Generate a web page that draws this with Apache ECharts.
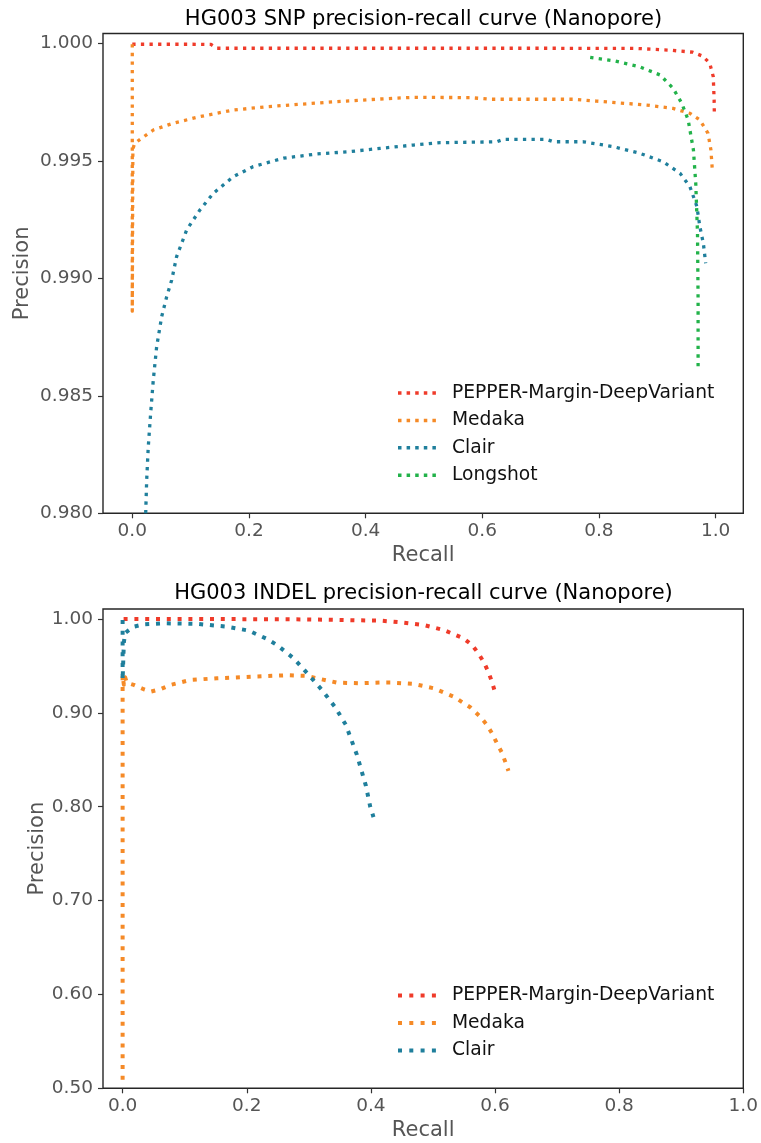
<!DOCTYPE html>
<html>
<head>
<meta charset="utf-8">
<script src="https://cdn.jsdelivr.net/npm/echarts@6/dist/echarts.min.js"></script>
<style>
html,body{margin:0;padding:0;background:#fff;}
#chart{width:761px;height:1143px;}
</style>
</head>
<body>
<div id="chart"></div>
<script>
// ---------- Data ----------
const seriesNames = ['PEPPER-Margin-DeepVariant', 'Medaka', 'Clair', 'Longshot'];
const seriesColors = ['#ef3b2a', '#f58a27', '#1f7f9c', '#22b24a'];

const recallTicks = [0, 0.2, 0.4, 0.6, 0.8, 1.0];
const snpPrecisionTicks = [0.980, 0.985, 0.990, 0.995, 1.000];
const indelPrecisionTicks = [0.5, 0.6, 0.7, 0.8, 0.9, 1.0];

// SNP panel
const snpPepperRecall = [0, 0.002, 0.05, 0.10, 0.135, 0.145, 0.3, 0.5, 0.7, 0.865, 0.92, 0.961, 0.978, 0.990, 0.996, 0.9975, 0.9978];
const snpPepperPrecision = [0.99996, 0.99996, 0.99996, 0.99996, 0.99995, 0.99979, 0.99979, 0.99979, 0.99979, 0.99978, 0.99971, 0.99962, 0.99945, 0.99915, 0.99858, 0.99759, 0.99709];

const snpMedakaRecall = [0, 0, 0.001, 0.004, 0.016, 0.036, 0.070, 0.116, 0.173, 0.230, 0.345, 0.425, 0.482, 0.579, 0.613, 0.756, 0.796, 0.882, 0.927, 0.956, 0.973, 0.987, 0.992, 0.9944];
const snpMedakaPrecision = [0.99996, 0.9886, 0.9955, 0.99574, 0.99596, 0.99631, 0.99660, 0.99688, 0.99716, 0.99730, 0.99751, 0.99763, 0.99770, 0.99769, 0.99762, 0.99762, 0.99754, 0.99737, 0.99723, 0.99702, 0.99674, 0.99617, 0.99546, 0.99461];

const snpClairRecall = [0.023, 0.0247, 0.0274, 0.0315, 0.036, 0.0418, 0.0504, 0.059, 0.0675, 0.076, 0.0933, 0.116, 0.139, 0.173, 0.207, 0.259, 0.316, 0.373, 0.425, 0.482, 0.528, 0.625, 0.636, 0.710, 0.722, 0.773, 0.825, 0.870, 0.910, 0.939, 0.956, 0.968, 0.973, 0.979, 0.983];
const snpClairPrecision = [0.9800, 0.98142, 0.98283, 0.98426, 0.98567, 0.98709, 0.98837, 0.98922, 0.98992, 0.99092, 0.99206, 0.99291, 0.99362, 0.99432, 0.99475, 0.99511, 0.99529, 0.99539, 0.99553, 0.99567, 0.99577, 0.99581, 0.99591, 0.99591, 0.99581, 0.99581, 0.99560, 0.99532, 0.99496, 0.99447, 0.99390, 0.99305, 0.99220, 0.99149, 0.99064];

const snpLongshotRecall = [0.785, 0.825, 0.870, 0.905, 0.927, 0.942, 0.953, 0.962, 0.966, 0.969, 0.970, 0.970];
const snpLongshotPrecision = [0.99940, 0.99926, 0.99900, 0.99865, 0.99809, 0.99745, 0.99674, 0.99546, 0.99404, 0.99191, 0.98908, 0.98610];

// INDEL panel
const indelPepperRecall = [0.0016, 0.1, 0.2, 0.3, 0.415, 0.447, 0.485, 0.517, 0.549, 0.563, 0.573, 0.582, 0.589, 0.595, 0.600];
const indelPepperPrecision = [1.0, 0.9999, 0.9998, 0.9995, 0.9982, 0.99645, 0.99361, 0.98829, 0.97941, 0.97231, 0.96347, 0.95389, 0.94394, 0.93323, 0.92194];

const indelMedakaRecall = [0, 0, 0.002, 0.004, 0.007, 0.018, 0.034, 0.0457, 0.0607, 0.0768, 0.109, 0.152, 0.211, 0.265, 0.297, 0.316, 0.345, 0.383, 0.415, 0.434, 0.469, 0.501, 0.533, 0.560, 0.576, 0.587, 0.595, 0.603, 0.611, 0.617, 0.6216];
const indelMedakaPrecision = [0.509, 0.940, 0.930, 0.938, 0.932, 0.9297, 0.9251, 0.9226, 0.9251, 0.9297, 0.9350, 0.9368, 0.9386, 0.9400, 0.9393, 0.9364, 0.9322, 0.9315, 0.9322, 0.9322, 0.9308, 0.9262, 0.9173, 0.9060, 0.8960, 0.8871, 0.8783, 0.8676, 0.8577, 0.8470, 0.8381];

const indelClairRecall = [0, 0, 0.002, 0.004, 0.010, 0.018, 0.034, 0.066, 0.120, 0.168, 0.203, 0.2325, 0.2486, 0.2754, 0.2985, 0.3211, 0.3425, 0.3597, 0.3775, 0.392, 0.3989, 0.4042];
const indelClairPrecision = [0.999, 0.935, 0.975, 0.985, 0.988, 0.9918, 0.9943, 0.9954, 0.9947, 0.9918, 0.9876, 0.9787, 0.9723, 0.9581, 0.9414, 0.9244, 0.9060, 0.8871, 0.8552, 0.8222, 0.8001, 0.7888];

// ---------- Chart ----------
const zip = (xs, ys) => xs.map((x, i) => [x, ys[i]]);
const FONT = 'DejaVu Sans';

function dotsPath(n, size, period) {
  let p = 'path://';
  for (let i = 0; i < n; i++) {
    const x = (i * period).toFixed(2);
    p += 'M' + x + ',0h' + size + 'v' + size + 'h-' + size + 'z';
  }
  return p;
}

function mkSeries(name, colorIdx, data, gi, w, dash) {
  return {
    name: name, type: 'line', xAxisIndex: gi, yAxisIndex: gi,
    data: data, showSymbol: false, symbol: 'none',
    lineStyle: { color: seriesColors[colorIdx], width: w, type: dash, cap: 'butt', join: 'round' },
    itemStyle: { color: seriesColors[colorIdx] },
    clip: true, silent: true
  };
}

function xAxisCfg(gi, min, max) {
  return {
    type: 'value', gridIndex: gi, min: min, max: max, position: 'bottom',
    name: 'Recall', nameLocation: 'middle', nameGap: 32, nameMoveOverlap: false,
    nameTextStyle: { fontFamily: FONT, fontSize: 21, color: '#555' },
    axisLine: { show: false, onZero: false },
    splitLine: { show: false },
    axisTick: { show: true, inside: false, customValues: recallTicks, length: 5, lineStyle: { color: '#333', width: 1.2 } },
    axisLabel: { show: true, customValues: recallTicks, formatter: v => v.toFixed(1), fontFamily: FONT, fontSize: 18.5, color: '#555', margin: 8 }
  };
}
function yAxisCfg(gi, min, max, ticks, dec, gap) {
  return {
    type: 'value', gridIndex: gi, min: min, max: max, position: 'left',
    name: 'Precision', nameLocation: 'middle', nameGap: gap, nameRotate: 90, nameMoveOverlap: false,
    nameTextStyle: { fontFamily: FONT, fontSize: 21, color: '#555' },
    axisLine: { show: false, onZero: false },
    splitLine: { show: false },
    axisTick: { show: true, inside: false, customValues: ticks, length: 5, lineStyle: { color: '#333', width: 1.2 } },
    axisLabel: { show: true, customValues: ticks, formatter: v => v.toFixed(dec), fontFamily: FONT, fontSize: 18.5, color: '#555', margin: 10 }
  };
}

const chart = echarts.init(document.getElementById('chart'), null, { renderer: 'canvas' });
const topIcon = dotsPath(5, 3.5, 8.6);
const botIcon = dotsPath(4, 4, 11.3);

chart.setOption({
  animation: false,
  backgroundColor: '#fff',
  title: [
    { text: 'HG003 SNP precision-recall curve (Nanopore)', left: 423.5, top: 9.5, textAlign: 'center', padding: 0,
      textStyle: { fontFamily: FONT, fontSize: 21, fontWeight: 'normal', color: '#000' } },
    { text: 'HG003 INDEL precision-recall curve (Nanopore)', left: 423.5, top: 583.5, textAlign: 'center', padding: 0,
      textStyle: { fontFamily: FONT, fontSize: 21, fontWeight: 'normal', color: '#000' } }
  ],
  grid: [
    { left: 103, top: 33.5, width: 640.3, height: 479.8, show: true, borderColor: '#262626', borderWidth: 1.4, backgroundColor: 'transparent', containLabel: false, outerBoundsMode: 'none' },
    { left: 103, top: 609, width: 640.3, height: 479.3, show: true, borderColor: '#262626', borderWidth: 1.4, backgroundColor: 'transparent', containLabel: false, outerBoundsMode: 'none' }
  ],
  xAxis: [ xAxisCfg(0, -0.0502, 1.0475), xAxisCfg(1, -0.0316, 1.0) ],
  yAxis: [ yAxisCfg(0, 0.98, 1.000417, snpPrecisionTicks, 3, 70), yAxisCfg(1, 0.5, 1.0106, indelPrecisionTicks, 2, 55) ],
  legend: [
    { data: seriesNames.slice(0, 4), orient: 'vertical', left: 398, top: 383, padding: 0,
      icon: topIcon, itemWidth: 38, itemHeight: 3.5, itemGap: 7.4, selectedMode: false,
      textStyle: { fontFamily: FONT, fontSize: 18.7, color: '#111', lineHeight: 20, padding: [0, 0, 0, 11] } },
    { data: seriesNames.slice(0, 3), orient: 'vertical', left: 398, top: 985.5, padding: 0,
      icon: botIcon, itemWidth: 38, itemHeight: 4, itemGap: 7.5, selectedMode: false,
      textStyle: { fontFamily: FONT, fontSize: 18.7, color: '#111', lineHeight: 20, padding: [0, 0, 0, 11] } }
  ],
  series: [
    mkSeries(seriesNames[0], 0, zip(snpPepperRecall, snpPepperPrecision), 0, 3.3, [3.3, 5.3]),
    mkSeries(seriesNames[1], 1, zip(snpMedakaRecall, snpMedakaPrecision), 0, 3.3, [3.3, 5.3]),
    mkSeries(seriesNames[2], 2, zip(snpClairRecall, snpClairPrecision), 0, 3.3, [3.3, 5.3]),
    mkSeries(seriesNames[3], 3, zip(snpLongshotRecall, snpLongshotPrecision), 0, 3.3, [3.3, 5.3]),
    mkSeries(seriesNames[0], 0, zip(indelPepperRecall, indelPepperPrecision), 1, 4, [4, 6.8]),
    mkSeries(seriesNames[1], 1, zip(indelMedakaRecall, indelMedakaPrecision), 1, 4, [4, 6.8]),
    mkSeries(seriesNames[2], 2, zip(indelClairRecall, indelClairPrecision), 1, 4, [4, 6.8])
  ]
});
</script>
</body>
</html>
